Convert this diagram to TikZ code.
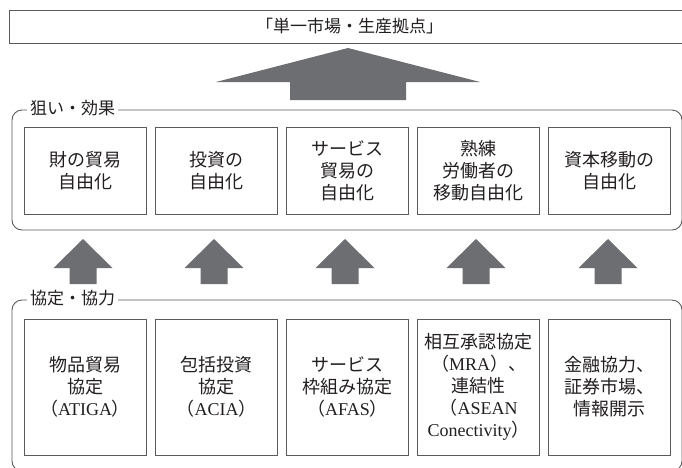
\documentclass[tikz,border=0pt]{standalone}
\usepackage{fontspec}
\setmainfont{Noto Sans CJK JP}
\newfontfamily\lat{Liberation Serif}
\definecolor{ln}{HTML}{5A5A5A}
\definecolor{arr}{HTML}{6D6E71}
\definecolor{tx}{HTML}{231F20}
\newcommand\blockarrow[6]{% cx, tip, base, bottom, halfhead, halfshaft
  \fill[arr] (#1,#2) -- (#1+#5,#3) -- (#1+#6,#3) -- (#1+#6,#4) -- (#1-#6,#4) -- (#1-#6,#3) -- (#1-#5,#3) -- cycle;}
\begin{document}
\begin{tikzpicture}[x=1pt,y=-1pt,
  box/.style={draw=ln, line width=0.9pt, minimum width=122pt, align=center,
    font=\fontsize{18}{22}\selectfont, text=tx, inner sep=0pt},
  rowa/.style={box, minimum height=87pt},
  rowb/.style={box, minimum height=136pt},
  frame/.style={draw=ln, line width=0.9pt, rounded corners=10pt},
  flabel/.style={fill=white, inner xsep=3pt, inner ysep=1pt, anchor=west, text=tx,
    font=\fontsize{17}{20}\selectfont}]
\useasboundingbox (0,0) rectangle (682,467);
\clip (0,0) rectangle (682,467);
\fill[white] (0,0) rectangle (682,467);
% top box
\node[draw=ln, line width=0.9pt, minimum width=681pt, minimum height=33pt, inner sep=0pt,
  text=tx, font=\fontsize{17}{20}\selectfont] (top) at (349.5,26.5) {「単一市場・生産拠点」};
% big arrow
\blockarrow{348}{48}{82}{100}{132}{58}
% frame 1
\draw[frame] (12,110) rectangle (682,230);
\node[flabel] (f1) at (27,108) {狙い・効果};
\node[rowa] (a1) at (85,170.5) {財の貿易\\自由化};
\node[rowa] (a2) at (216.5,170.5) {投資の\\自由化};
\node[rowa] (a3) at (347.5,170.5) {サービス\\貿易の\\自由化};
\node[rowa] (a4) at (478.5,170.5) {熟練\\労働者の\\移動自由化};
\node[rowa] (a5) at (609,170.5) {資本移動の\\自由化};
% small arrows
\foreach \cx in {83,214,345,476,608}{\blockarrow{\cx}{239}{268}{284}{29.5}{13.5}}
% frame 2
\draw[frame] (12,300) rectangle (682,471);
\node[flabel] (f2) at (27,298) {協定・協力};
\node[rowb] (b1) at (85,387) {物品貿易\\協定\\（{\lat ATIGA}）};
\node[rowb] (b2) at (216.5,387) {包括投資\\協定\\（{\lat ACIA}）};
\node[rowb] (b3) at (347.5,387) {サービス\\枠組み協定\\（{\lat AFAS}）};
\node[rowb] (b4) at (478.5,387) {相互承認協定\\（{\lat MRA}）、\\連結性\\（{\lat ASEAN}\\{\lat Conectivity}）};
\node[rowb] (b5) at (609,387) {金融協力、\\証券市場、\\情報開示};
\end{tikzpicture}
\end{document}
